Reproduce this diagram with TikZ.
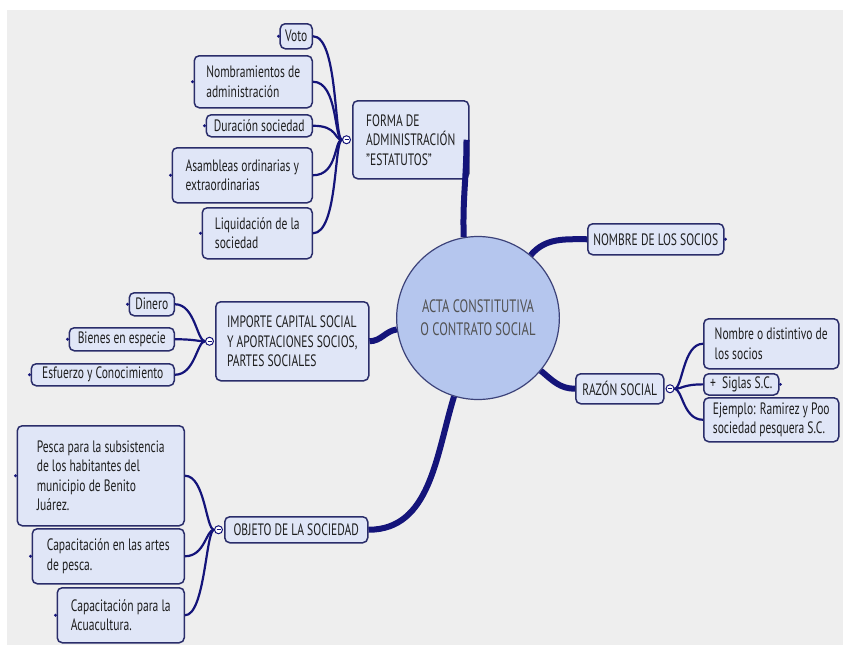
\documentclass[tikz,border=0pt]{standalone}
\usepackage{fontspec}
\setmainfont{PT Sans}[FakeStretch=0.7]
\usetikzlibrary{positioning,shapes.geometric}
\definecolor{navy}{HTML}{14147A}
\definecolor{boxline}{HTML}{2A2D6A}
\definecolor{boxfill}{HTML}{E0E6F7}
\definecolor{rootfill}{HTML}{B5C6EE}
\definecolor{rootline}{HTML}{3C4279}
\definecolor{bgcol}{HTML}{EEEEEE}
\definecolor{txt}{HTML}{1E1E1E}

\begin{document}
\begin{tikzpicture}[x=1pt,y=1pt,
  box/.style={draw=boxline, line width=1.5pt, fill=boxfill, rounded corners=5pt, align=left, inner xsep=5pt, inner ysep=3pt, text=txt, font=\fontsize{16.5}{19.5}\selectfont},
  coll/.style={circle, draw=navy, line width=1pt, fill=white, inner sep=0pt, minimum size=8pt,
    path picture={\draw[navy, line width=1pt] ([xshift=-2pt]path picture bounding box.center) -- ([xshift=2pt]path picture bounding box.center);}},
  twig/.style={draw=navy, line width=2.2pt},
  branch/.style={draw=navy, line width=6pt}]
\useasboundingbox (0,0) rectangle (843,-645);
\fill[white] (0,0) rectangle (843,-645);
\fill[bgcol] (7,-10) rectangle (843,-645);

% central topic
\node[ellipse, draw=rootline, line width=1.2pt, fill=rootfill, inner sep=0pt, minimum width=158pt, minimum height=163pt, align=center, text=black!68, font=\fontsize{18}{23}\selectfont] (centre) at (478,-318) {ACTA CONSTITUTIVA\\O CONTRATO SOCIAL};

% forma de administracion
\node[box, anchor=north west, minimum width=116pt, minimum height=78pt] (forma) at (352,-100) {FORMA DE\\ADMINISTRACIÓN\\"ESTATUTOS"};
\node[coll, left=1pt of forma] (formacoll) {};
\node[box, anchor=north east, minimum width=31pt, minimum height=25pt] (voto) at (313,-23) {Voto};
\node[box, anchor=north east, minimum width=118pt, minimum height=52pt] (nombr) at (313,-55) {Nombramientos de\\administración};
\node[box, anchor=north east, minimum width=106pt, minimum height=22pt] (durac) at (313,-114) {Duración sociedad};
\node[box, anchor=north east, minimum width=140pt, minimum height=55pt] (asamb) at (313,-147) {Asambleas ordinarias y\\extraordinarias};
\node[box, anchor=north east, minimum width=110pt, minimum height=51pt] (liquid) at (313,-207) {Liquidación de la\\sociedad};

% importe capital social
\node[box, anchor=north west, minimum width=153pt, minimum height=79pt] (importe) at (215,-301) {IMPORTE CAPITAL SOCIAL\\Y APORTACIONES SOCIOS,\\PARTES SOCIALES};
\node[coll, left=1pt of importe] (importecoll) {};
\node[box, anchor=north east, minimum width=45pt, minimum height=23pt] (dinero) at (175,-292) {Dinero};
\node[box, anchor=north east, minimum width=105pt, minimum height=23pt] (bienes) at (175,-327) {Bienes en especie};
\node[box, anchor=north east, minimum width=143pt, minimum height=22pt] (esfuerzo) at (175,-363) {Esfuerzo y Conocimiento};

% objeto de la sociedad
\node[box, anchor=north west, minimum width=143pt, minimum height=26pt] (objeto) at (224,-516) {OBJETO DE LA SOCIEDAD};
\node[coll, left=1pt of objeto] (objetocoll) {};
\node[box, anchor=north east, minimum width=167pt, minimum height=100pt] (pesca) at (185,-425) {Pesca para la subsistencia\\de los habitantes del\\municipio de Benito\\Juárez.};
\node[box, anchor=north east, minimum width=152pt, minimum height=55pt] (artes) at (185,-528) {Capacitación en las artes\\de pesca.};
\node[box, anchor=north east, minimum width=127pt, minimum height=55pt] (acua) at (185,-587) {Capacitación para la\\Acuacultura.};

% nombre y razon social
\node[box, anchor=north west, minimum width=136pt, minimum height=31pt] (nombre) at (587,-223) {NOMBRE DE LOS SOCIOS};
\node[box, anchor=north west, minimum width=88pt, minimum height=30pt] (razon) at (575,-373) {RAZÓN SOCIAL};
\node[coll, right=1pt of razon] (razoncoll) {};
\node[box, anchor=north west, minimum width=135pt, minimum height=50pt] (nomdist) at (703,-318) {Nombre o distintivo de\\los socios};
\node[box, anchor=north west, minimum width=75pt, minimum height=20pt] (siglas) at (703,-373) {+\ \ Siglas S.C.};
\node[box, anchor=north west, minimum width=135pt, minimum height=44pt] (ejemplo) at (703,-397) {Ejemplo: Ramirez y Poo\\sociedad pesquera S.C.};

% main branches
\draw[branch] (centre.100) to[out=92,in=-90] ([xshift=-3pt]forma.east);
\draw[branch] (importe.east) to[out=0,in=188] (centre.188);
\draw[branch] (objeto.east) to[out=0,in=253] (centre.253);
\draw[branch] (centre.50) to[out=50,in=180] (nombre.west);
\draw[branch] (centre.-40) to[out=-40,in=180] (razon.west);

% sub branches
\foreach \c in {voto,nombr,durac,asamb,liquid}{\draw[twig] (formacoll.west) .. controls +(180:8) and +(0:25) .. (\c.east);}
\foreach \c in {dinero,bienes,esfuerzo}{\draw[twig] (importecoll.west) .. controls +(180:8) and +(0:20) .. (\c.east);}
\foreach \c in {pesca,artes,acua}{\draw[twig] (objetocoll.west) .. controls +(180:8) and +(0:20) .. (\c.east);}
\foreach \c in {nomdist,siglas,ejemplo}{\draw[twig] (razoncoll.east) .. controls +(0:8) and +(180:20) .. (\c.west);}

% leaf ends
\foreach \c in {voto,nombr,durac,asamb,liquid,dinero,bienes,esfuerzo,pesca,artes,acua}{\fill[navy] ([xshift=-1pt]\c.west) circle (1.6);}
\foreach \c in {nombre,siglas}{\fill[navy] ([xshift=1pt]\c.east) circle (1.6);}
\end{tikzpicture}
\end{document}
